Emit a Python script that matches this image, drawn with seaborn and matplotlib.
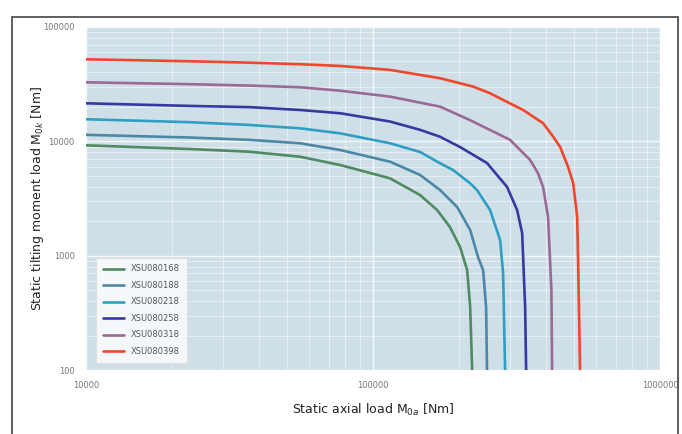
import numpy as np
import pandas as pd
import matplotlib
matplotlib.use("Agg")
import matplotlib.pyplot as plt
import matplotlib.ticker as mticker
from matplotlib.patches import Rectangle
import seaborn as sns

# series (axial load Nm, tilting moment Nm)
names = ["XSU080168", "XSU080188", "XSU080218", "XSU080258", "XSU080318", "XSU080398"]
colors = ["#4f8a62", "#4a88a6", "#2e9fc2", "#3838a0", "#9a6a95", "#f2462b"]

x_168 = [10000, 23000, 37200, 55700, 76800, 114600, 145900, 167200, 185300, 201000, 212700, 217900, 221400]
y_168 = [9230, 8570, 8110, 7340, 6210, 4750, 3390, 2510, 1780, 1190, 750, 356, 100]

x_188 = [10000, 23000, 37200, 55700, 76800, 114600, 145900, 171200, 196200, 217900, 232100, 241700, 247600, 249400]
y_188 = [11400, 10800, 10300, 9620, 8400, 6640, 5080, 3750, 2670, 1680, 973, 750, 356, 100]

x_218 = [10000, 23000, 37200, 55700, 76800, 114600, 145900, 171200, 190000, 217900, 230200, 255600, 277100, 283700, 288300]
y_218 = [15600, 14700, 13900, 13000, 11750, 9620, 8070, 6430, 5610, 4300, 3750, 2510, 1370, 705, 100]

x_258 = [10000, 23000, 37200, 55700, 76800, 114600, 145900, 171200, 201000, 249400, 293000, 317500, 330600, 338600, 341300]
y_258 = [21500, 20400, 19900, 18800, 17600, 14900, 12600, 10960, 8910, 6460, 3990, 2510, 1580, 356, 100]

x_318 = [10000, 23000, 37200, 55700, 76800, 114600, 171200, 217900, 300000, 352400, 375000, 391000, 407000, 418000, 420400]
y_318 = [32800, 31600, 30700, 29700, 27700, 24600, 20100, 15300, 10300, 6870, 5290, 3990, 2180, 501, 100]

x_398 = [10000, 23000, 37200, 55700, 76800, 114600, 171200, 223000, 255600, 283700, 333200, 391000, 425000, 448500, 478000, 497800, 514000, 517800, 526000]
y_398 = [52100, 50100, 48700, 47200, 45600, 42100, 35600, 30100, 26300, 23000, 18800, 14400, 10900, 8910, 5960, 4320, 2180, 916, 100]

xs = [x_168, x_188, x_218, x_258, x_318, x_398]
ys = [y_168, y_188, y_218, y_258, y_318, y_398]

frames = []
for name, xv, yv in zip(names, xs, ys):
    frames.append(pd.DataFrame({"axial": xv, "moment": yv, "type": name}))
df = pd.concat(frames, ignore_index=True)

sns.set_style("white")
fig = plt.figure(figsize=(6.82, 4.34), dpi=100)
ax = fig.add_axes([0.126, 0.147, 0.842, 0.791])
ax.set_facecolor("#cfdfe8")

sns.lineplot(data=df, x="axial", y="moment", hue="type", palette=colors,
             hue_order=names, estimator=None, sort=False, linewidth=1.9, ax=ax)
for ln in ax.lines:
    ln.set_solid_joinstyle("round")

ax.set_xscale("log")
ax.set_yscale("log")
ax.set_xlim(10000, 1000000)
ax.set_ylim(100, 100000)

ax.xaxis.set_major_locator(mticker.FixedLocator([10000, 100000, 1000000]))
ax.yaxis.set_major_locator(mticker.FixedLocator([100, 1000, 10000, 100000]))
fmt = mticker.FuncFormatter(lambda v, p: "%d" % round(v))
ax.xaxis.set_major_formatter(fmt)
ax.yaxis.set_major_formatter(fmt)
ax.xaxis.set_minor_locator(mticker.LogLocator(base=10, subs=np.arange(2, 10)))
ax.yaxis.set_minor_locator(mticker.LogLocator(base=10, subs=np.arange(2, 10)))
ax.xaxis.set_minor_formatter(mticker.NullFormatter())
ax.yaxis.set_minor_formatter(mticker.NullFormatter())

ax.grid(which="major", color="white", linewidth=1.0, alpha=0.8)
ax.grid(which="minor", color="white", linewidth=0.7, alpha=0.5)
ax.set_axisbelow(True)
ax.tick_params(which="both", length=0, labelsize=6, labelcolor="#777777", pad=8)
for s in ax.spines.values():
    s.set_visible(False)

ax.set_xlabel("Static axial load M$_{0a}$ [Nm]", fontsize=9, color="#222222", labelpad=8)
ax.set_ylabel("Static tilting moment load M$_{0k}$ [Nm]", fontsize=9, color="#222222", labelpad=-2)

leg = ax.legend(loc="lower left", bbox_to_anchor=(0.01, 0.01), fontsize=6, frameon=True,
                fancybox=False, handlelength=2.6, labelspacing=0.9, borderpad=0.8,
                title=None)
leg.get_frame().set_facecolor("white")
leg.get_frame().set_edgecolor("#dddddd")
for t in leg.get_texts():
    t.set_color("#555555")

fig.patches.append(Rectangle((0.0176, -0.1), 0.976, 1.061, transform=fig.transFigure,
                             fill=False, edgecolor="#444444", linewidth=1.2))

fig.savefig("out.png", dpi=100)
